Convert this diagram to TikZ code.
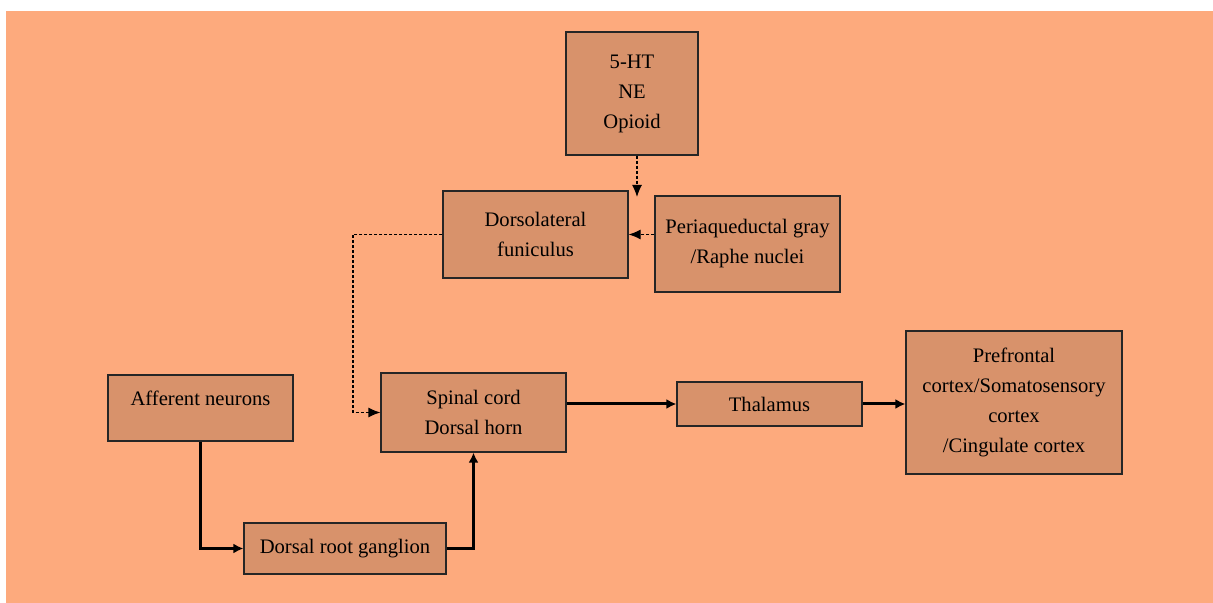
\documentclass[tikz,border=0pt]{standalone}
\usepackage{fontspec}
\setmainfont{Liberation Serif}
\usetikzlibrary{arrows.meta}

\definecolor{bgorange}{RGB}{253,170,125}
\definecolor{boxorange}{RGB}{216,146,107}

\tikzset{
  blockbox/.style={draw=black!85, line width=0.6pt, fill=boxorange, inner sep=0pt,
    align=center, font=\rmfamily\fontsize{10.3}{15}\selectfont},
  thickarrow/.style={line width=1.5pt, -{Latex[length=5pt,width=5pt]}},
  dasharrow/.style={line width=0.6pt, dash pattern=on 1.5pt off 1pt, -{Latex[length=6pt,width=5pt]}}
}

\begin{document}
\begin{tikzpicture}[x=0.5pt,y=-0.5pt]
\useasboundingbox (0,0) rectangle (1213,603);
\fill[bgorange] (6,11) rectangle (1213,603);

% boxes
\node[blockbox, minimum width=66pt, minimum height=61.5pt] (nt) at (632,93.5) {5-HT\\NE\\Opioid};
\node[blockbox, minimum width=92.5pt, minimum height=43.5pt] (dlf) at (535.5,234.5) {Dorsolateral\\funiculus};
\node[blockbox, minimum width=92.5pt, minimum height=48pt] (pag) at (747.5,244) {Periaqueductal gray\\/Raphe nuclei};
\node[blockbox, minimum width=92.5pt, minimum height=33pt] (aff) at (200.5,408) {Afferent neurons\\[-5pt]};
\node[blockbox, minimum width=92.5pt, minimum height=39.5pt] (scd) at (473.5,412.5) {Spinal cord\\Dorsal horn};
\node[blockbox, minimum width=92.5pt, minimum height=22pt] (thl) at (769.5,404) {Thalamus};
\node[blockbox, minimum width=108pt, minimum height=71.5pt] (pfc) at (1014,402.5) {Prefrontal\\cortex/Somatosensory\\cortex\\/Cingulate cortex};
\node[blockbox, minimum width=101pt, minimum height=25.5pt] (drg) at (345,548.5) {Dorsal root ganglion};

\coordinate (nttip) at (637,197);
\coordinate (dlfbend) at (353,234.5);

% descending (dashed)
\draw[dasharrow] (nt.south -| nttip) -- (nttip);
\draw[dasharrow] (pag.west |- dlf.east) -- (dlf.east);
\draw[dasharrow] (dlf.west) -- (dlfbend) |- (scd.west);

% ascending
\draw[thickarrow] (aff.south) |- (drg.west);
\draw[thickarrow] (drg.east) -| (scd.south);
\draw[thickarrow] (scd.east |- thl.west) -- (thl.west);
\draw[thickarrow] (thl.east) -- (pfc.west |- thl.east);

\end{tikzpicture}
\end{document}
